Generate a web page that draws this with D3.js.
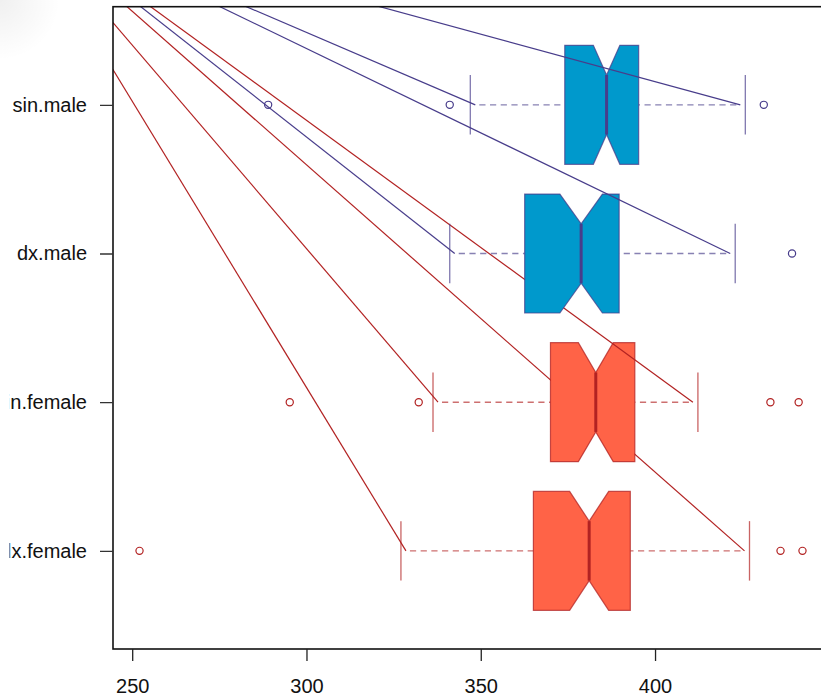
<!DOCTYPE html>
<html>
<head>
<meta charset="utf-8">
<script src="https://cdn.jsdelivr.net/npm/d3@7"></script>
<style>
  html, body { margin: 0; padding: 0; background: #fff; }
  #chart { width: 821px; height: 698px; overflow: hidden; }
  text { font-family: "Liberation Sans", Arial, sans-serif; }
</style>
</head>
<body>
<div id="chart"></div>
<script>
// Groups from bottom (position 1) to top (position 4)
const groups = ["dx.female", "sin.female", "dx.male", "sin.male"];
const sexes = ["female", "female", "male", "male"];
const lowWhisker = [327.1, 336.3, 341.1, 347.0];
const q1 = [365.1, 370.0, 362.6, 374.1];
const notchLow = [375.5, 378.0, 372.7, 382.3];
const median = [381.1, 383.0, 378.8, 386.1];
const notchHigh = [386.7, 388.0, 384.9, 389.9];
const q3 = [392.9, 394.2, 389.7, 395.3];
const highWhisker = [427.1, 412.3, 423.0, 425.9];
const outliers = [
    [252.1, 436.0, 442.3],
    [295.2, 332.2, 433.1, 441.2],
    [439.3],
    [289.0, 341.1, 431.2]
];
const xTicks = [250, 300, 350, 400];
// point that all the stray whisker lines come from (value, group position)
const anchorValue = 216.1;
const anchorPos = 5.33;

const colors = {
    female: { fill: "#FF6347", stroke: "#B22222" },
    male: { fill: "#0099CC", stroke: "#483D8B" }
};

const width = 821, height = 698;
const svg = d3.select("#chart")
    .append("svg")
    .attr("width", width)
    .attr("height", height);

// faint shadow in the top-left corner
const defs = svg.append("defs");
const grad = defs.append("radialGradient")
    .attr("id", "corner")
    .attr("cx", 0).attr("cy", 0).attr("r", 1);
grad.append("stop").attr("offset", "0%").attr("stop-color", "#000").attr("stop-opacity", 0.06);
grad.append("stop").attr("offset", "100%").attr("stop-color", "#000").attr("stop-opacity", 0);
svg.append("rect")
    .attr("width", 60).attr("height", 60)
    .style("fill", "url(#corner)");

// R style ranges: data range plus 4% on each side
const allValues = lowWhisker.concat(highWhisker, outliers.flat());
const [vmin, vmax] = d3.extent(allValues);
const pad = (vmax - vmin) * 0.04;
const x = d3.scaleLinear()
    .domain([vmin - pad, vmax + pad])
    .range([113, 829]);

const y = d3.scaleLinear()
    .domain([0.34, 4.66])
    .range([649, 6.7]);

const wid = 0.4;
const whiskerGap = 5;

// boxes, one group at a time so later boxes cover earlier lines
groups.forEach((name, i) => {
    const pos = i + 1;
    const c = colors[sexes[i]];
    const g = svg.append("g").attr("class", "group");
    const cy = y(pos);

    const lowEnd = x(lowWhisker[i]) + whiskerGap;
    const highEnd = x(highWhisker[i]) - whiskerGap;

    // dashed whiskers
    [[lowEnd, x(q1[i])], [highEnd, x(q3[i])]].forEach(([a, b]) => {
        g.append("line")
            .attr("x1", a).attr("x2", b)
            .attr("y1", cy).attr("y2", cy)
            .style("stroke", c.stroke).style("stroke-opacity", 0.65)
            .style("stroke-width", 1.4)
            .style("stroke-dasharray", "6.2,4.5")
            .style("stroke-dashoffset", -4);
    });

    // staples
    [lowWhisker[i], highWhisker[i]].forEach(v => {
        g.append("line")
            .attr("x1", x(v)).attr("x2", x(v))
            .attr("y1", y(pos - wid / 2)).attr("y2", y(pos + wid / 2))
            .style("stroke", c.stroke).style("stroke-opacity", 0.7)
            .style("stroke-width", 1.3);
    });

    // notched box
    const pts = [
        [q1[i], -wid], [notchLow[i], -wid], [median[i], -wid / 2], [notchHigh[i], -wid], [q3[i], -wid],
        [q3[i], wid], [notchHigh[i], wid], [median[i], wid / 2], [notchLow[i], wid], [q1[i], wid]
    ];
    g.append("polygon")
        .attr("points", pts.map(p => [x(p[0]), y(pos + p[1])].join(",")).join(" "))
        .style("fill", c.fill)
        .style("stroke", c.stroke).style("stroke-opacity", 0.75)
        .style("stroke-width", 1.2);

    // median
    g.append("line")
        .attr("x1", x(median[i])).attr("x2", x(median[i]))
        .attr("y1", y(pos - wid / 2)).attr("y2", y(pos + wid / 2))
        .style("stroke", c.stroke)
        .style("stroke-width", 3);

    // outliers
    g.selectAll(".out")
        .data(outliers[i])
        .enter()
        .append("circle")
        .attr("class", "out")
        .attr("cx", d => x(d))
        .attr("cy", cy)
        .attr("r", 3.6)
        .style("fill", "none")
        .style("stroke", c.stroke)
        .style("stroke-width", 1.2);

    // stray lines from the anchor point to the whisker ends
    [lowEnd, highEnd].forEach(px => {
        g.append("line")
            .attr("x1", x(anchorValue)).attr("y1", y(anchorPos))
            .attr("x2", px).attr("y2", cy)
            .style("stroke", c.stroke)
            .style("stroke-width", 1.2);
    });
});

// clip everything drawn so far to the plot region
const clip = defs.append("clipPath").attr("id", "plotclip");
clip.append("rect")
    .attr("x", x.range()[0]).attr("y", y.range()[1])
    .attr("width", x.range()[1] - x.range()[0])
    .attr("height", y.range()[0] - y.range()[1]);
svg.selectAll("g.group").attr("clip-path", "url(#plotclip)");

// frame
svg.append("rect")
    .attr("x", x.range()[0]).attr("y", y.range()[1])
    .attr("width", x.range()[1] - x.range()[0])
    .attr("height", y.range()[0] - y.range()[1])
    .style("fill", "none")
    .style("stroke", "#111")
    .style("stroke-width", 1.6);

// X axis
const xAxis = svg.append("g")
    .attr("transform", `translate(0,${y.range()[0]})`)
    .call(d3.axisBottom(x).tickValues(xTicks).tickSize(12).tickPadding(18));
xAxis.select(".domain").remove();
xAxis.selectAll("line").style("stroke", "#222").style("stroke-width", 1.3);
xAxis.selectAll("text").style("font-size", "20px").style("fill", "#111")
    .style("font-family", "'Liberation Sans', Arial, sans-serif");

// Y axis, labels cut at the left edge as in the source picture
const labelClip = defs.append("clipPath").attr("id", "labelclip");
labelClip.append("rect").attr("x", 9.5).attr("y", 0).attr("width", width).attr("height", height);
const yAxisWrap = svg.append("g").attr("clip-path", "url(#labelclip)");
const yAxis = yAxisWrap.append("g")
    .attr("transform", `translate(${x.range()[0]},0)`)
    .call(d3.axisLeft(y).tickValues([1, 2, 3, 4]).tickFormat((d, i) => groups[i]).tickSize(13).tickPadding(13));
yAxis.select(".domain").remove();
yAxis.selectAll("line").style("stroke", "#333").style("stroke-width", 1.3);
yAxis.selectAll("text").style("font-size", "20px").style("fill", "#111")
    .style("font-family", "'Liberation Sans', Arial, sans-serif");
</script>
</body>
</html>
